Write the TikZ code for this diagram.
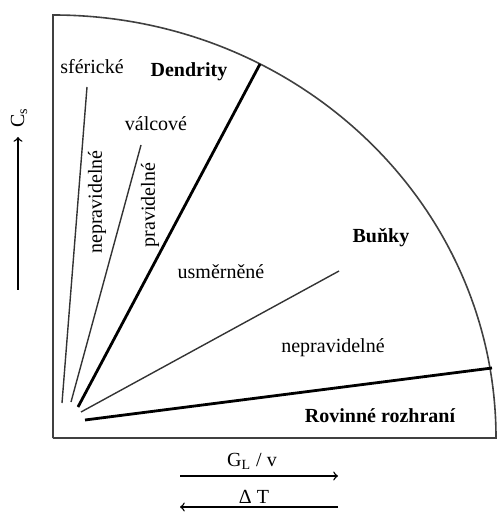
\documentclass[tikz,border=0pt]{standalone}
\usepackage{fontspec}
\setmainfont{Liberation Serif}
\usepackage{tikz}

\begin{document}
\begin{tikzpicture}[x=0.5pt,y=-0.5pt,font=\fontsize{10}{12}\selectfont]
      \useasboundingbox (0,0) rectangle (497,512);
      % ohraniceni oblasti
      \coordinate (hore) at (53,15);
      \coordinate (roh) at (53,438);
      \coordinate (vpravo) at (496,438);
      \draw[line width=0.8pt,black!75] (roh) -- (hore) arc[start angle=-90,end angle=0,x radius=443,y radius=423] -- (roh);
      % hranice mezi oblastmi
      \coordinate (a1) at (62,403);  \coordinate (b1) at (87,87);
      \coordinate (a2) at (71,402);  \coordinate (b2) at (141,145);
      \coordinate (a3) at (78,407);  \coordinate (b3) at (260,64);
      \coordinate (a4) at (81,412);  \coordinate (b4) at (339,271);
      \coordinate (a5) at (85,420);  \coordinate (b5) at (492,368);
      \foreach \i in {1,2,4} \draw[line width=0.7pt,black!80] (a\i) -- (b\i);
      \foreach \i in {3,5} \draw[line width=1.4pt] (a\i) -- (b\i);
      % popisky
      \node (sfer) at (92,67) {sférické};
      \node[font=\fontsize{10}{12}\selectfont\bfseries] (dendr) at (189,72) {Dendrity};
      \node (valc) at (156,124) {válcové};
      \node[rotate=90] (neprav1) at (97,202) {nepravidelné};
      \node[rotate=90] (prav) at (150,205) {pravidelné};
      \node (usm) at (221,272) {usměrněné};
      \node[font=\fontsize{10}{12}\selectfont\bfseries] (bunky) at (381,238) {Buňky};
      \node (neprav2) at (333,348) {nepravidelné};
      \node[font=\fontsize{10}{12}\selectfont\bfseries] (rovin) at (380,416) {Rovinné rozhraní};
      % osy
      \coordinate (cs0) at (18,290);
      \coordinate (cs1) at (18,137);
      \draw[->,line width=0.7pt] (cs0) -- (cs1);
      \node[rotate=90] (cs) at (19,118) {C\textsubscript{s}};
      \coordinate (g0) at (180,476);  \coordinate (g1) at (338,476);
      \coordinate (t0) at (338,507);  \coordinate (t1) at (180,507);
      \draw[->,line width=0.7pt] (g0) -- (g1);
      \draw[->,line width=0.7pt] (t0) -- (t1);
      \node (gl) at (252,461) {G\textsubscript{L} / v};
      \node (dt) at (254,497) {Δ T};
    \end{tikzpicture}
\end{document}
